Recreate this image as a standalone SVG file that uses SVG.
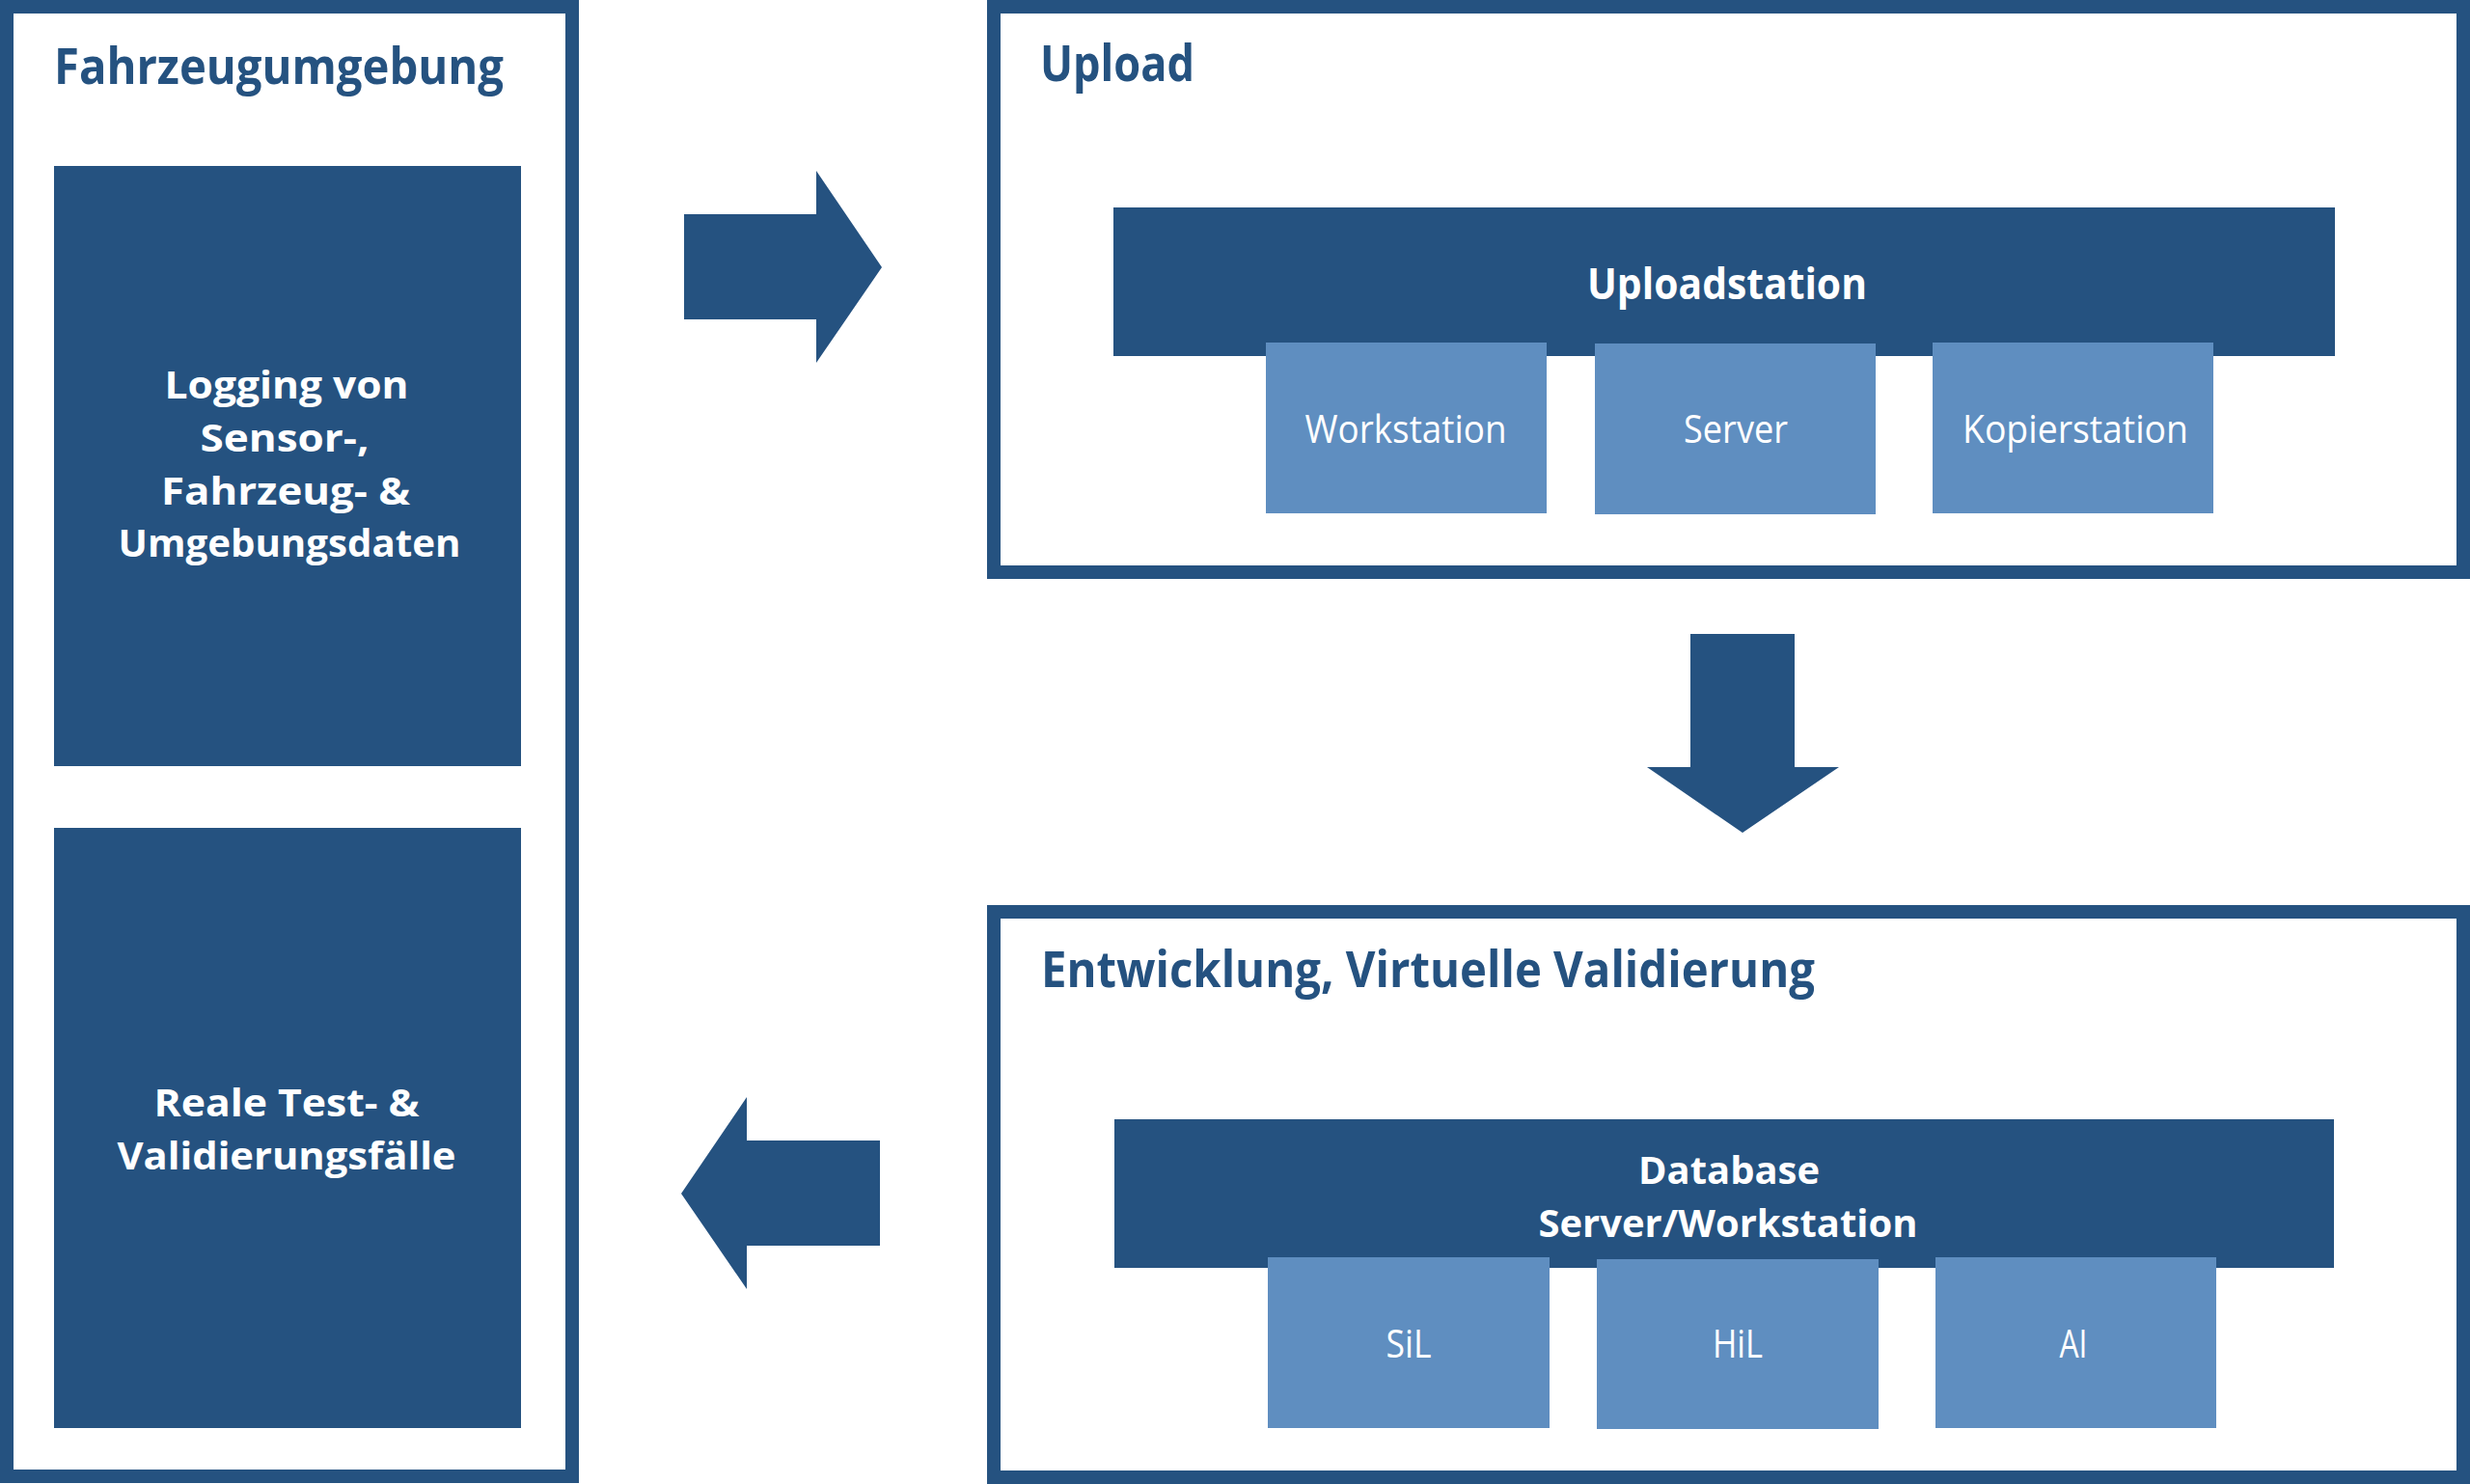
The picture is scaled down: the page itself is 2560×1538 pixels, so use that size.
<svg xmlns="http://www.w3.org/2000/svg" width="2560" height="1538" viewBox="0 0 2560 1538">
<style>
.frame{fill:#ffffff;stroke:#255280;stroke-width:14}
.dark{fill:#255280}
.light{fill:#5f8ec0}
.arrow{fill:#255280}
.title{font-family:"Open Sans","Liberation Sans",sans-serif;font-weight:bold;font-size:52px;fill:#255280}
.wb{font-family:"Open Sans","Liberation Sans",sans-serif;font-weight:bold;font-size:44px;fill:#ffffff;text-anchor:middle}
.wm{font-family:"Open Sans","Liberation Sans",sans-serif;font-weight:bold;font-size:40px;fill:#ffffff;text-anchor:middle}
.wr{font-family:"Open Sans","Liberation Sans",sans-serif;font-weight:normal;font-size:40px;fill:#ffffff;text-anchor:middle}
</style>
<rect width="2560" height="1538" fill="#ffffff"/>
<g id="fahrzeugumgebung">
<rect class="frame" x="7" y="7" width="586" height="1523"/>
<text class="title" x="56" y="87" textLength="466" lengthAdjust="spacingAndGlyphs">Fahrzeugumgebung</text>
</g>
<g id="logging">
<rect class="dark" x="56" y="172" width="484" height="622"/>
<text class="wm" x="297" y="413" textLength="253" lengthAdjust="spacingAndGlyphs">Logging von</text>
<text class="wm" x="295" y="468" textLength="175" lengthAdjust="spacingAndGlyphs">Sensor-,</text>
<text class="wm" x="296" y="523" textLength="258" lengthAdjust="spacingAndGlyphs">Fahrzeug- &amp;</text>
<text class="wm" x="300" y="577" textLength="355" lengthAdjust="spacingAndGlyphs">Umgebungsdaten</text>
</g>
<g id="reale">
<rect class="dark" x="56" y="858" width="484" height="622"/>
<text class="wm" x="297" y="1157" textLength="275" lengthAdjust="spacingAndGlyphs">Reale Test- &amp;</text>
<text class="wm" x="297" y="1212" textLength="351" lengthAdjust="spacingAndGlyphs">Validierungsfälle</text>
</g>
<g id="upload">
<rect class="frame" x="1030" y="7" width="1523" height="586"/>
<text class="title" x="1078" y="84" textLength="160" lengthAdjust="spacingAndGlyphs">Upload</text>
</g>
<g id="uploadstation">
<rect class="dark" x="1154" y="215" width="1266" height="154"/>
<text class="wb" x="1790" y="310" textLength="290" lengthAdjust="spacingAndGlyphs">Uploadstation</text>
</g>
<g id="workstation">
<rect class="light" x="1312" y="355" width="291" height="177"/>
<text class="wr" x="1457" y="459" textLength="209" lengthAdjust="spacingAndGlyphs">Workstation</text>
</g>
<g id="server">
<rect class="light" x="1653" y="356" width="291" height="177"/>
<text class="wr" x="1799" y="459" textLength="108" lengthAdjust="spacingAndGlyphs">Server</text>
</g>
<g id="kopierstation">
<rect class="light" x="2003" y="355" width="291" height="177"/>
<text class="wr" x="2151" y="459" textLength="234" lengthAdjust="spacingAndGlyphs">Kopierstation</text>
</g>
<g id="entwicklung">
<rect class="frame" x="1030" y="945" width="1523" height="586"/>
<text class="title" x="1079" y="1023" textLength="802" lengthAdjust="spacingAndGlyphs">Entwicklung, Virtuelle Validierung</text>
</g>
<g id="database">
<rect class="dark" x="1155" y="1160" width="1264" height="154"/>
<text class="wm" x="1792" y="1227" textLength="188" lengthAdjust="spacingAndGlyphs">Database</text>
<text class="wm" x="1791" y="1282" textLength="393" lengthAdjust="spacingAndGlyphs">Server/Workstation</text>
</g>
<g id="sil">
<rect class="light" x="1314" y="1303" width="292" height="177"/>
<text class="wr" x="1460" y="1407" textLength="47" lengthAdjust="spacingAndGlyphs">SiL</text>
</g>
<g id="hil">
<rect class="light" x="1655" y="1305" width="292" height="176"/>
<text class="wr" x="1801" y="1407" textLength="52" lengthAdjust="spacingAndGlyphs">HiL</text>
</g>
<g id="ai">
<rect class="light" x="2006" y="1303" width="291" height="177"/>
<text class="wr" x="2149" y="1407" textLength="29" lengthAdjust="spacingAndGlyphs">AI</text>
</g>
<g id="connectors">
<polygon class="arrow" points="709,222 846,222 846,177 914,277 846,376 846,331 709,331"/>
<polygon class="arrow" points="1752,657 1860,657 1860,795 1906,795 1806,863 1707,795 1752,795"/>
<polygon class="arrow" points="912,1182 774,1182 774,1137 706,1237 774,1336 774,1291 912,1291"/>
</g>
</svg>
